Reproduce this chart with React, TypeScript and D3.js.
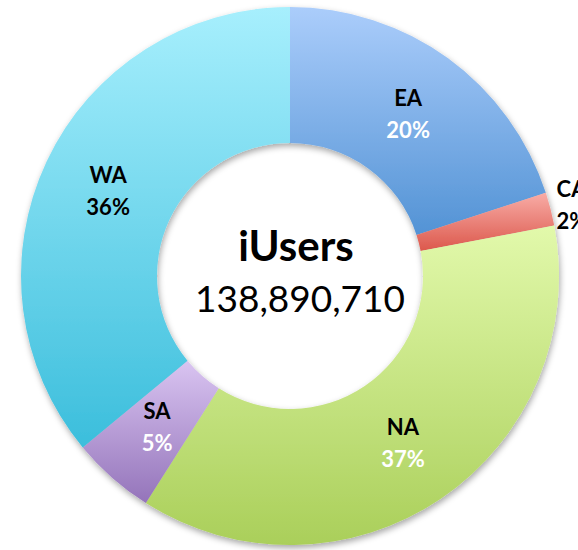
import React from "react";
import * as d3 from "d3";

const categories = ["EA", "CA", "NA", "SA", "WA"];
const values = [20, 2, 37, 5, 36];
const percentLabels = ["20%", "2%", "37%", "5%", "36%"];
const totalLabel = "138,890,710";
const centerTitle = "iUsers";

const topColors = ["#abcdfb", "#f8aca6", "#e2f9ab", "#d9c4f1", "#a7effd"];
const bottomColors = ["#5393d5", "#dc584c", "#aacf5a", "#9474ba", "#3bbedc"];
const pctColors = ["#ffffff", "#000000", "#ffffff", "#ffffff", "#000000"];

const W = 578;
const H = 550;
const cx = 290;
const cy = 276;
const outerR = 269;
const innerR = 133;

export default function App() {
  const pie = d3.pie<number>().sort(null).value((d) => d);
  const arcs = pie(values);
  const arcGen = d3.arc<d3.PieArcDatum<number>>().innerRadius(innerR).outerRadius(outerR);
  const labelArc = d3.arc<d3.PieArcDatum<number>>().innerRadius(innerR).outerRadius(outerR);
  const font = "Lato, 'Open Sans', sans-serif";

  return (
    <svg
      width={W}
      height={H}
      style={{ position: "absolute", left: 0, top: 0 }}
      viewBox={`0 0 ${W} ${H}`}
    >
      <defs>
        {categories.map((c, i) => (
          <linearGradient key={c} id={`g${i}`} x1="0" y1="0" x2="0" y2="1">
            <stop offset="0%" stopColor={topColors[i]} />
            <stop offset="100%" stopColor={bottomColors[i]} />
          </linearGradient>
        ))}
        <filter id="shadow" x="-20%" y="-20%" width="140%" height="140%">
          <feDropShadow dx="1" dy="3" stdDeviation="3" floodColor="#000" floodOpacity="0.35" />
        </filter>
      </defs>
      <rect width={W} height={H} fill="#ffffff" />
      <g transform={`translate(${cx},${cy})`}>
        <g filter="url(#shadow)">
          {arcs.map((a, i) => (
            <path key={categories[i]} d={arcGen(a) || ""} fill={`url(#g${i})`} />
          ))}
        </g>
        {arcs.map((a, i) => {
          let x: number, y: number, anchor = "middle";
          if (categories[i] === "CA") {
            const mid = (a.startAngle + a.endAngle) / 2 - 0.01;
            const r = outerR + 8;
            x = Math.sin(mid) * r - 1;
            y = -Math.cos(mid) * r;
            anchor = "start";
          } else {
            [x, y] = labelArc.centroid(a);
          }
          return (
            <g key={categories[i]} fontFamily={font} fontWeight="bold" fontSize={22} textAnchor={anchor}>
              <text x={x} y={y - 16} dominantBaseline="central" fill="#000">
                {categories[i]}
              </text>
              <text x={x} y={y + 16} dominantBaseline="central" fill={pctColors[i]}>
                {percentLabels[i]}
              </text>
            </g>
          );
        })}
        <text
          x={6}
          y={-15}
          textAnchor="middle"
          fontFamily={font}
          fontWeight="bold"
          fontSize={42}
          fill="#000"
        >
          {centerTitle}
        </text>
        <text
          x={10}
          y={36}
          textAnchor="middle"
          fontFamily={font}
          fontSize={37}
          fill="#000"
        >
          {totalLabel}
        </text>
      </g>
    </svg>
  );
}
